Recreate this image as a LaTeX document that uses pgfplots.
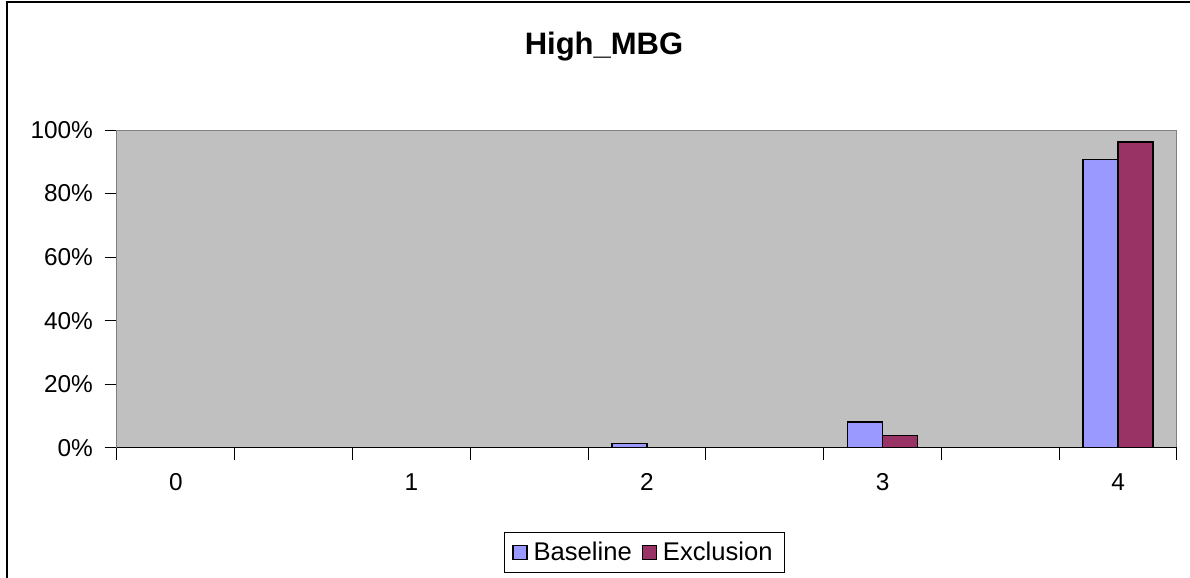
\documentclass[border=0pt]{standalone}
\usepackage{pgfplots}
\pgfplotsset{compat=1.18}
\usepackage{fontspec}
\setmainfont{Liberation Sans}
\definecolor{basec}{HTML}{9999FF}
\definecolor{exclc}{HTML}{993366}
\definecolor{plotbg}{HTML}{C0C0C0}
\definecolor{framec}{HTML}{808080}
\begin{document}
\begin{tikzpicture}
\useasboundingbox (-58.5pt,-65.15pt) rectangle (536.5pt,223.85pt);
\draw[line width=1pt] (-55pt,-80pt) -- (-55pt,222.6pt) -- (560pt,222.6pt);
\node[font=\bfseries\fontsize{15.5}{18}\selectfont] at (243.5pt,200.35pt) {High\_MBG};
\begin{axis}[
  scale only axis,
  width=530pt, height=158.85pt,
  xmin=-0.5, xmax=8.5,
  ymin=0, ymax=100,
  axis background/.style={fill=plotbg},
  axis line style={draw=framec, line width=0.5pt},
  ybar=0pt, bar width=17.5pt,
  xtick={-0.5,0.5,...,8.5},
  xticklabels={},
  extra x ticks={0,2,4,6,8},
  extra x tick labels={0,1,2,3,4},
  extra x tick style={major tick length=0pt, xticklabel style={yshift=-9.5pt}},
  ytick={0,20,...,100},
  yticklabel={\pgfmathprintnumber{\tick}\%},
  /pgf/number format/assume math mode=true,
  tick align=outside,
  xtick pos=bottom, ytick pos=left,
  major tick length=6pt,
  tick style={black, line width=0.5pt},
  ticklabel style={font=\fontsize{12.2}{14}\selectfont},
  yticklabel style={xshift=-2.5pt},
  legend columns=2,
  legend style={at={(0.4976,-0.330)}, anchor=center, draw=black, fill=white,
    line width=0.5pt,
    font=\fontsize{12.8}{15}\selectfont,
    /tikz/every odd column/.append style={column sep=1pt},
    /tikz/every even column/.append style={column sep=3pt},
    inner xsep=4pt, inner ysep=2.5pt},
  legend image code/.code={\draw[#1, line width=0.6pt] (0pt,-3.5pt) rectangle (7pt,3.5pt);},
]
\addplot[fill=basec, draw=black, line width=0.8pt] coordinates {(4,1.3) (6,8.1) (8,90.7)};
\addplot[fill=exclc, draw=black, line width=0.8pt] coordinates {(6,3.8) (8,96.2)};
\legend{Baseline, Exclusion}
\draw[black, line width=0.6pt] (rel axis cs:0,0) -- (rel axis cs:1,0);
\end{axis}
\end{tikzpicture}
\end{document}
